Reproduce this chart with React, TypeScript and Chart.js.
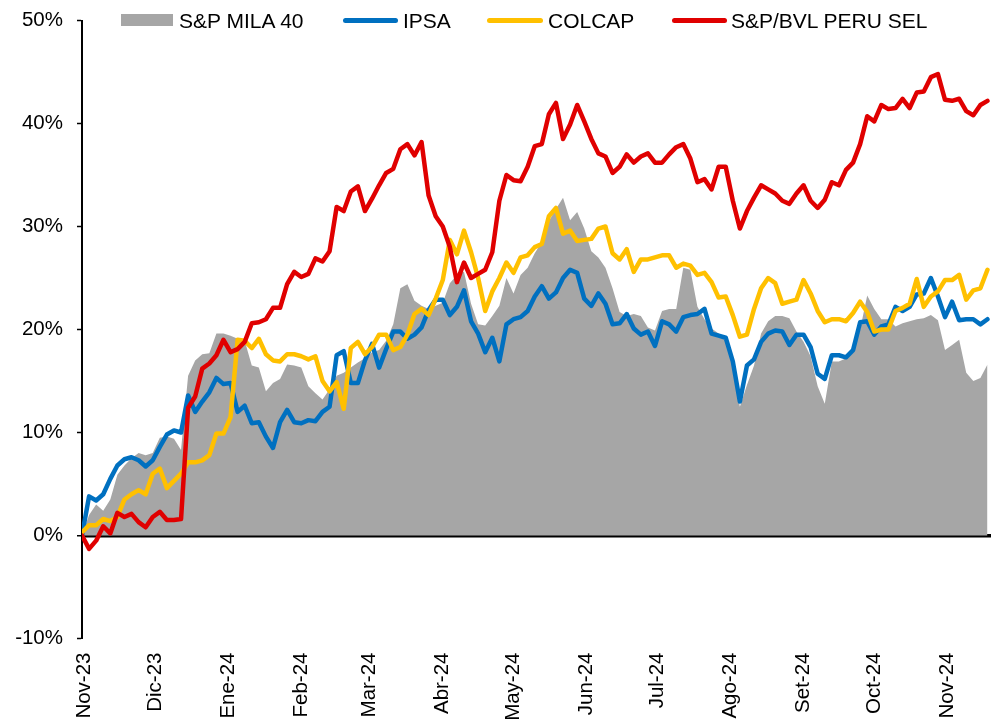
import React, { useEffect, useRef } from "react";
import { Chart, registerables } from "chart.js";

Chart.register(...registerables);

// x positions: calendar days since 1 Nov 2023, one sample every 3 days
const START_DAY = -1;
const STEP_DAYS = 3;

const monthTickDays = [0, 30, 61, 92, 121, 152, 182, 213, 243, 274, 305, 335, 366];
const monthLabels = [
  "Nov-23", "Dic-23", "Ene-24", "Feb-24", "Mar-24", "Abr-24", "May-24",
  "Jun-24", "Jul-24", "Ago-24", "Set-24", "Oct-24", "Nov-24",
];

const seriesNames = ["S&P MILA 40", "IPSA", "COLCAP", "S&P/BVL PERU SEL"];

const mila40 = [
  0.0, 2.0, 3.0, 2.4, 3.5, 5.9, 6.8, 7.5, 8.0, 7.8, 8.0, 9.5, 9.6, 9.4, 8.3, 15.5,
  17.0, 17.6, 17.7, 19.6, 19.6, 19.4, 19.1, 18.9, 16.5, 16.3, 14.0, 14.8, 15.2, 16.6,
  16.5, 16.3, 14.5, 13.8, 13.2, 14.2, 15.5, 15.8, 16.3, 16.8, 17.2, 17.8, 18.0, 18.9,
  20.5, 24.0, 24.4, 22.8, 22.3, 22.0, 22.3, 22.6, 24.5, 25.3, 25.6, 22.5, 20.5, 20.4,
  21.3, 22.3, 25.0, 23.5, 25.3, 26.0, 27.4, 28.5, 30.5, 31.7, 32.8, 30.6, 31.4, 29.8,
  27.6, 27.0, 26.0, 24.0, 21.7, 21.3, 21.5, 21.3, 20.2, 19.9, 21.8, 22.0, 22.0, 26.0,
  25.8, 22.2, 21.0, 20.1, 19.6, 19.2, 16.4, 12.5, 14.6, 16.5, 19.6, 20.8, 21.3, 21.3,
  21.1, 19.8, 18.8, 17.4, 14.5, 12.8, 16.9, 16.9, 17.2, 17.8, 20.0, 23.3, 22.0, 21.0,
  21.0, 20.3, 20.6, 20.8, 21.0, 21.1, 21.4, 20.9, 18.0, 18.5, 19.0, 15.8, 15.0, 15.3,
  16.6,
];

const ipsa = [
  0.0, 3.8, 3.4, 4.0, 5.5, 6.8, 7.4, 7.6, 7.3, 6.7, 7.3, 8.6, 9.8, 10.2, 10.0, 13.6,
  12.0, 13.0, 13.9, 15.3, 14.7, 14.8, 12.0, 12.6, 10.9, 11.0, 9.6, 8.5, 11.0, 12.2,
  11.0, 10.9, 11.2, 11.1, 12.0, 12.5, 17.5, 17.9, 14.8, 14.8, 17.0, 18.6, 16.3, 18.1,
  19.8, 19.8, 19.1, 19.5, 20.2, 21.9, 22.9, 22.9, 21.4, 22.2, 23.8, 20.8, 19.6, 17.8,
  19.2, 16.9, 20.5, 21.0, 21.2, 21.8, 23.2, 24.2, 23.0, 23.6, 25.0, 25.8, 25.5, 23.0,
  22.3, 23.5, 22.5, 20.5, 20.6, 21.5, 20.1, 19.5, 19.8, 18.4, 20.8, 20.5, 19.8, 21.2,
  21.4, 21.5, 22.0, 19.6, 19.4, 19.2, 16.9, 13.0, 16.5, 17.1, 18.8, 19.6, 19.9, 19.8,
  18.5, 19.5, 19.5, 18.3, 15.7, 15.2, 17.5, 17.5, 17.3, 18.0, 20.7, 20.8, 19.5, 20.3,
  20.5, 22.2, 21.8, 22.2, 23.4, 23.5, 25.0, 23.2, 21.2, 22.7, 20.9, 21.0, 21.0, 20.5,
  21.0,
];

const colcap = [
  0.3, 1.0, 1.0, 1.6, 1.4, 1.8, 3.5, 4.0, 4.4, 4.0, 6.0, 6.5, 4.6, 5.3, 6.0, 7.1,
  7.1, 7.3, 7.8, 9.9, 9.9, 11.5, 19.0, 18.9, 18.2, 19.1, 17.6, 17.0, 16.9, 17.6,
  17.6, 17.4, 17.1, 17.4, 15.0, 14.0, 14.9, 12.3, 18.2, 18.8, 17.6, 18.3, 19.5, 19.5,
  18.0, 18.3, 19.5, 21.5, 22.0, 21.4, 23.0, 24.8, 28.7, 27.3, 29.6, 27.5, 25.0, 21.8,
  23.7, 25.0, 26.5, 25.5, 27.0, 27.2, 28.0, 28.3, 31.0, 31.8, 29.3, 29.6, 28.6, 28.7,
  28.8, 29.8, 30.0, 27.4, 26.8, 27.8, 25.6, 26.8, 26.8, 27.0, 27.2, 27.2, 26.0, 26.4,
  26.2, 25.3, 25.5, 24.6, 23.1, 23.2, 21.4, 19.3, 19.5, 22.0, 24.0, 25.0, 24.5, 22.5,
  22.7, 22.9, 24.8, 23.5, 21.8, 20.7, 21.0, 21.0, 20.8, 21.6, 22.7, 21.7, 19.8, 20.0,
  20.0, 21.8, 22.1, 22.5, 24.9, 22.2, 23.2, 23.7, 24.8, 24.8, 25.3, 22.9, 23.8, 24.0,
  25.8,
];

const peruSel = [
  0.0, -1.3, -0.5, 0.9, 0.2, 2.2, 1.8, 2.1, 1.3, 0.8, 1.8, 2.3, 1.5, 1.5, 1.6, 12.4,
  13.5, 16.2, 16.7, 17.5, 19.0, 17.8, 18.1, 18.8, 20.6, 20.7, 21.0, 22.1, 22.1, 24.4,
  25.6, 25.1, 25.4, 26.9, 26.6, 27.6, 31.9, 31.5, 33.4, 33.9, 31.5, 32.7, 34.0, 35.2,
  35.6, 37.5, 38.0, 36.9, 38.2, 33.0, 31.0, 30.0, 28.0, 24.6, 26.5, 25.0, 25.4, 25.8,
  27.5, 32.5, 35.0, 34.5, 34.4, 35.8, 37.8, 38.0, 40.9, 42.0, 38.5, 39.9, 41.8, 40.2,
  38.5, 37.1, 36.8, 35.2, 35.8, 37.0, 36.2, 36.8, 37.1, 36.2, 36.2, 37.0, 37.7, 38.0,
  36.6, 34.3, 34.6, 33.6, 35.8, 35.8, 32.5, 29.8, 31.5, 32.8, 34.0, 33.6, 33.2, 32.5,
  32.2, 33.2, 34.0, 32.5, 31.8, 32.6, 34.3, 34.0, 35.5, 36.2, 38.0, 40.7, 40.2, 41.8,
  41.4, 41.5, 42.4, 41.5, 43.0, 43.1, 44.5, 44.8, 42.3, 42.2, 42.4, 41.2, 40.8, 41.8,
  42.2,
];

const GRAY = "#a6a6a6";
const BLUE = "#0070c0";
const YELLOW = "#ffc000";
const RED = "#e00000";
const FONT = "'Liberation Sans', Arial, sans-serif";

const toPoints = (vals: number[]) =>
  vals.map((v, i) => ({ x: START_DAY + i * STEP_DAYS, y: v }));

export default function App() {
  const canvasRef = useRef<HTMLCanvasElement | null>(null);

  useEffect(() => {
    if (!canvasRef.current) return;
    const lineDs = (label: string, vals: number[], color: string, order: number) => ({
      label,
      data: toPoints(vals),
      borderColor: color,
      backgroundColor: color,
      borderWidth: 4.5,
      pointRadius: 0,
      tension: 0,
      fill: false,
      borderJoinStyle: "round" as const,
      borderCapStyle: "round" as const,
      order,
    });
    const chart = new Chart(canvasRef.current, {
      type: "line",
      data: {
        datasets: [
          lineDs(seriesNames[3], peruSel, RED, 1),
          lineDs(seriesNames[2], colcap, YELLOW, 2),
          lineDs(seriesNames[1], ipsa, BLUE, 3),
          {
            label: seriesNames[0],
            data: toPoints(mila40),
            borderWidth: 0,
            borderColor: GRAY,
            backgroundColor: GRAY,
            pointRadius: 0,
            tension: 0,
            fill: "origin",
            order: 4,
          } as any,
        ],
      },
      options: {
        animation: false,
        responsive: false,
        maintainAspectRatio: false,
        layout: { padding: { left: 0, top: 20.5, right: 14, bottom: 0 } },
        plugins: { legend: { display: false }, tooltip: { enabled: false } },
        scales: {
          x: {
            type: "linear",
            min: -1,
            max: 384.5,
            grid: { display: false, drawTicks: false },
            border: { display: false },
            afterBuildTicks: (s: any) => {
              s.ticks = monthTickDays.map((v) => ({ value: v }));
            },
            afterFit: (s: any) => {
              s.height = 82.5;
            },
            ticks: {
              autoSkip: false,
              maxRotation: 90,
              minRotation: 90,
              padding: 14,
              color: "#000",
              font: { family: FONT, size: 20.5 },
              callback: (_v: any, i: number) => monthLabels[i],
            },
          },
          y: {
            min: -10,
            max: 50,
            afterFit: (s: any) => {
              s.width = 82;
              s.paddingTop = 8;
              s.paddingBottom = 8;
            },
            ticks: {
              stepSize: 10,
              padding: 14,
              color: "#000",
              font: { family: FONT, size: 20.5 },
              callback: (v: any) => `${v}%`,
            },
            grid: {
              drawOnChartArea: true,
              drawTicks: true,
              tickLength: 5,
              tickColor: "#000",
              tickWidth: 1.5,
              color: (ctx: any) =>
                ctx.tick && ctx.tick.value === 0 ? "#000" : "rgba(0,0,0,0)",
              lineWidth: (ctx: any) => (ctx.tick && ctx.tick.value === 0 ? 3.5 : 1),
            },
            border: { display: true, color: "#000", width: 2 },
          },
        },
      },
    });
    return () => chart.destroy();
  }, []);

  const textStyle: React.CSSProperties = {
    position: "absolute",
    top: 9.5,
    fontFamily: FONT,
    fontSize: 21,
    lineHeight: "21px",
    color: "#000",
    whiteSpace: "nowrap",
  };
  const lineStyle = (left: number, width: number, color: string): React.CSSProperties => ({
    position: "absolute",
    left,
    top: 17.5,
    width,
    height: 5,
    borderRadius: 2.5,
    background: color,
  });

  return (
    <div style={{ position: "absolute", left: 0, top: 0, width: 1005, height: 721, background: "#fff" }}>
      <canvas ref={canvasRef} width={1005} height={721} style={{ position: "absolute", left: 0, top: 0 }} />
      <div style={{ position: "absolute", left: 121, top: 13.5, width: 52, height: 12.5, background: GRAY }} />
      <div style={{ ...textStyle, left: 179 }}>{seriesNames[0]}</div>
      <div style={lineStyle(343, 55, BLUE)} />
      <div style={{ ...textStyle, left: 403 }}>{seriesNames[1]}</div>
      <div style={lineStyle(487, 56, YELLOW)} />
      <div style={{ ...textStyle, left: 548 }}>{seriesNames[2]}</div>
      <div style={lineStyle(672, 55, RED)} />
      <div style={{ ...textStyle, left: 731 }}>{seriesNames[3]}</div>
    </div>
  );
}
